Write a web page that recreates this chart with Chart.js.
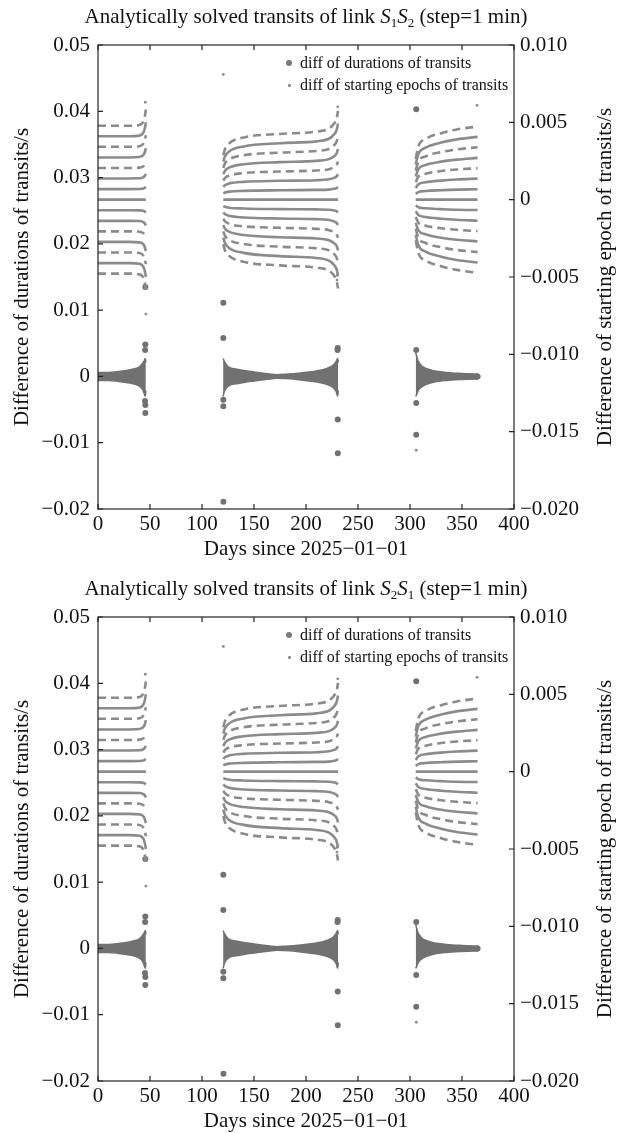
<!DOCTYPE html>
<html>
<head>
<meta charset="utf-8">
<script src="https://cdn.jsdelivr.net/npm/chart.js@4.4.1/dist/chart.umd.min.js"></script>
<style>
  body { margin: 0; background: #fff; font-family: 'Liberation Serif', 'Times New Roman', serif; color: #111; }
  .panel { position: absolute; left: 0; width: 623px; height: 563px; }
  .panel canvas { position: absolute; left: 0; top: 0; }
  .ttl { position: absolute; left: 0; width: 612px; top: 3px; text-align: center; font-size: 21px; line-height: 26px; white-space: nowrap; }
  .ttl sub { font-size: 13px; vertical-align: -4px; line-height: 0; }
  .rtitle { position: absolute; left: 379px; top: 264px; width: 450px; height: 26px; line-height: 26px; text-align: center;
            font-size: 21px; transform: rotate(-90deg); transform-origin: 50% 50%; white-space: nowrap; }
  .leg { position: absolute; left: 300px; font-size: 16px; line-height: 18px; white-space: nowrap; }
  .mk { position: absolute; border-radius: 50%; background: #7a7a7a; }
</style>
</head>
<body>

<div class="panel" style="top:0">
  <canvas id="c1" width="623" height="563"></canvas>
  <div class="ttl">Analytically solved transits of link <i>S</i><sub>1</sub><i>S</i><sub>2</sub> (step=1 min)</div>
  <div class="rtitle">Difference of starting epoch of transits/s</div>
  <div class="mk" style="left:286px;top:60px;width:6px;height:6px"></div>
  <div class="leg" style="top:54px">diff of durations of transits</div>
  <div class="mk" style="left:288px;top:84px;width:2.5px;height:2.5px;background:#8b8b8b"></div>
  <div class="leg" style="top:76px">diff of starting epochs of transits</div>
</div>

<div class="panel" style="top:572px">
  <canvas id="c2" width="623" height="563"></canvas>
  <div class="ttl">Analytically solved transits of link <i>S</i><sub>2</sub><i>S</i><sub>1</sub> (step=1 min)</div>
  <div class="rtitle">Difference of starting epoch of transits/s</div>
  <div class="mk" style="left:286px;top:60px;width:6px;height:6px"></div>
  <div class="leg" style="top:54px">diff of durations of transits</div>
  <div class="mk" style="left:288px;top:84px;width:2.5px;height:2.5px;background:#8b8b8b"></div>
  <div class="leg" style="top:76px">diff of starting epochs of transits</div>
</div>

<script>
// axis ticks
const X_TICKS = [0, 50, 100, 150, 200, 250, 300, 350, 400];
const LEFT_TICKS = [-0.02, -0.01, 0, 0.01, 0.02, 0.03, 0.04, 0.05];
const LEFT_LABELS = ['\u22120.02', '\u22120.01', '0', '0.01', '0.02', '0.03', '0.04', '0.05'];
const RIGHT_TICKS = [-0.02, -0.015, -0.01, -0.005, 0, 0.005, 0.01];
const RIGHT_LABELS = ['\u22120.020', '\u22120.015', '\u22120.010', '\u22120.005', '0', '0.005', '0.010'];

// diff of starting epochs: quantised levels (top to bottom), per visibility window
const EPOCH_DAYS_1 = [0, 30, 40, 44, 45.2, 46];
const EPOCH_LEVELS_1 = [
  [0.00478, 0.00478, 0.00483, 0.00511, 0.00545, 0.00583],
  [0.00410, 0.00410, 0.00414, 0.00439, 0.00467, 0.00500],
  [0.00342, 0.00342, 0.00345, 0.00366, 0.00390, 0.00417],
  [0.00273, 0.00273, 0.00276, 0.00292, 0.00311, 0.00333],
  [0.00205, 0.00205, 0.00207, 0.00219, 0.00234, 0.00250],
  [0.00137, 0.00137, 0.00138, 0.00147, 0.00156, 0.00167],
  [0.00068, 0.00068, 0.00069, 0.00073, 0.00078, 0.00083],
  [0, 0, 0, 0, 0, 0],
  [-0.00068, -0.00068, -0.00069, -0.00073, -0.00078, -0.00083],
  [-0.00137, -0.00137, -0.00138, -0.00147, -0.00156, -0.00167],
  [-0.00205, -0.00205, -0.00207, -0.00219, -0.00234, -0.00250],
  [-0.00273, -0.00273, -0.00276, -0.00292, -0.00311, -0.00333],
  [-0.00342, -0.00342, -0.00345, -0.00366, -0.00390, -0.00417],
  [-0.00410, -0.00410, -0.00414, -0.00439, -0.00467, -0.00500],
  [-0.00478, -0.00478, -0.00483, -0.00511, -0.00545, -0.00583]
];
const EPOCH_DAYS_2 = [120.5, 122, 126, 140, 175, 210, 222, 227, 229.5, 230.8];
const EPOCH_LEVELS_2 = [
  [0.00287, 0.00325, 0.00363, 0.00402, 0.00425, 0.00440, 0.00459, 0.00492, 0.00526, 0.00574],
  [0.00246, 0.00279, 0.00312, 0.00344, 0.00365, 0.00377, 0.00394, 0.00422, 0.00451, 0.00492],
  [0.00205, 0.00233, 0.00260, 0.00287, 0.00304, 0.00315, 0.00328, 0.00352, 0.00376, 0.00410],
  [0.00164, 0.00186, 0.00207, 0.00229, 0.00243, 0.00251, 0.00262, 0.00281, 0.00300, 0.00328],
  [0.00123, 0.00139, 0.00156, 0.00172, 0.00182, 0.00189, 0.00197, 0.00211, 0.00226, 0.00246],
  [0.00082, 0.00093, 0.00104, 0.00115, 0.00122, 0.00126, 0.00132, 0.00141, 0.00151, 0.00164],
  [0.00041, 0.00046, 0.00052, 0.00057, 0.00061, 0.00063, 0.00065, 0.00070, 0.00075, 0.00082],
  [0, 0, 0, 0, 0, 0, 0, 0, 0, 0],
  [-0.00041, -0.00046, -0.00052, -0.00057, -0.00061, -0.00063, -0.00065, -0.00070, -0.00075, -0.00082],
  [-0.00082, -0.00093, -0.00104, -0.00115, -0.00122, -0.00126, -0.00132, -0.00141, -0.00151, -0.00164],
  [-0.00123, -0.00139, -0.00156, -0.00172, -0.00182, -0.00189, -0.00197, -0.00211, -0.00226, -0.00246],
  [-0.00164, -0.00186, -0.00207, -0.00229, -0.00243, -0.00251, -0.00262, -0.00281, -0.00300, -0.00328],
  [-0.00205, -0.00233, -0.00260, -0.00287, -0.00304, -0.00315, -0.00328, -0.00352, -0.00376, -0.00410],
  [-0.00246, -0.00279, -0.00312, -0.00344, -0.00365, -0.00377, -0.00394, -0.00422, -0.00451, -0.00492],
  [-0.00287, -0.00325, -0.00363, -0.00402, -0.00425, -0.00440, -0.00459, -0.00492, -0.00526, -0.00574]
];
const EPOCH_DAYS_3 = [305.5, 308, 315, 330, 345, 365];
const EPOCH_LEVELS_3 = [
  [0.00263, 0.00344, 0.00392, 0.00430, 0.00454, 0.00473],
  [0.00226, 0.00295, 0.00336, 0.00369, 0.00390, 0.00406],
  [0.00188, 0.00246, 0.00280, 0.00308, 0.00325, 0.00339],
  [0.00150, 0.00197, 0.00224, 0.00246, 0.00259, 0.00270],
  [0.00113, 0.00148, 0.00168, 0.00185, 0.00195, 0.00203],
  [0.00075, 0.00099, 0.00112, 0.00123, 0.00130, 0.00136],
  [0.00037, 0.00049, 0.00056, 0.00061, 0.00065, 0.00067],
  [0, 0, 0, 0, 0, 0],
  [-0.00037, -0.00049, -0.00056, -0.00061, -0.00065, -0.00067],
  [-0.00075, -0.00099, -0.00112, -0.00123, -0.00130, -0.00136],
  [-0.00113, -0.00148, -0.00168, -0.00185, -0.00195, -0.00203],
  [-0.00150, -0.00197, -0.00224, -0.00246, -0.00259, -0.00270],
  [-0.00188, -0.00246, -0.00280, -0.00308, -0.00325, -0.00339],
  [-0.00226, -0.00295, -0.00336, -0.00369, -0.00390, -0.00406],
  [-0.00263, -0.00344, -0.00392, -0.00430, -0.00454, -0.00473]
];
// which levels look dashed (sparse) in the plot
const LEVEL_DASHED = [true, false, true, false, true, false, false, false, false, false, true, false, true, false, true];

// stray starting-epoch points
const EPOCH_STRAY_DAYS = [45.5, 46, 120.5, 229.8, 230, 230.5, 306, 364.5];
const EPOCH_STRAY_VALUES = [0.0063, -0.0074, 0.0081, -0.0052, -0.0049, 0.0060, -0.0162, 0.0061];

// diff of durations: dense band (upper / lower edge) per window
const DUR_DAYS_1 = [0, 10, 20, 30, 36, 40, 43, 44.5, 45.5, 46];
const DUR_HI_1 = [0.0006, 0.0006, 0.00075, 0.00098, 0.0012, 0.0015, 0.002, 0.0024, 0.0027, 0.0021];
const DUR_LO_1 = [-0.0006, -0.0006, -0.00075, -0.00098, -0.0012, -0.0015, -0.002, -0.0026, -0.003, -0.0021];
const DUR_DAYS_2 = [120.3, 121.5, 125, 135, 150, 165, 172, 180, 195, 210, 220, 226, 229, 230.5, 231];
const DUR_HI_2 = [0.0027, 0.00227, 0.0015, 0.00106, 0.00068, 0.00038, 0.00027, 0.00033, 0.00053, 0.00083, 0.0012, 0.00166, 0.00227, 0.0027, 0.0021];
const DUR_LO_2 = [-0.003, -0.00227, -0.0015, -0.00106, -0.00068, -0.00038, -0.00027, -0.00033, -0.00053, -0.00083, -0.0012, -0.00166, -0.00227, -0.003, -0.0021];
const DUR_DAYS_3 = [305.5, 306.5, 308, 312, 320, 335, 350, 364, 365.5];
const DUR_HI_3 = [0.0036, 0.003, 0.00227, 0.0015, 0.00098, 0.0006, 0.00045, 0.00038, 0.00045];
const DUR_LO_3 = [-0.003, -0.0027, -0.0021, -0.0015, -0.00098, -0.0006, -0.00045, -0.00038, -0.00045];

// isolated duration points
const DUR_OUT_DAYS = [45.5, 45.5, 45.3, 45.5, 45.5, 45.2, 120.5, 120.5, 120.5, 120.5, 120.6, 230.5, 230.3, 230.5, 230.6, 306, 306, 306, 306, 365];
const DUR_OUT_VALUES = [0.0135, 0.0048, 0.004, -0.0043, -0.0055, -0.0037, 0.0111, 0.0058, -0.0035, -0.0045, -0.0189, 0.0043, 0.004, -0.0065, -0.0116, 0.0403, 0.004, -0.004, -0.0088, 0];

const LINE_GREY = '#8b8b8b';
const DOT_GREY = '#717171';
const AXIS_COL = '#222';
const FONT = 'Liberation Serif';

function pts(xs, ys) { return xs.map((x, i) => ({ x: x, y: ys[i] })); }

function buildDatasets() {
  const ds = [];
  [[EPOCH_DAYS_1, EPOCH_LEVELS_1], [EPOCH_DAYS_2, EPOCH_LEVELS_2], [EPOCH_DAYS_3, EPOCH_LEVELS_3]].forEach(([days, levels]) => {
    levels.forEach((lv, i) => {
      ds.push({
        data: pts(days, lv), yAxisID: 'yR', borderColor: LINE_GREY, borderWidth: 2.6,
        borderDash: LEVEL_DASHED[i] ? [8, 5] : [], pointRadius: 0, fill: false,
        cubicInterpolationMode: 'monotone'
      });
    });
  });
  ds.push({
    data: pts(EPOCH_STRAY_DAYS, EPOCH_STRAY_VALUES), yAxisID: 'yR', showLine: false,
    pointRadius: 1.4, pointBackgroundColor: LINE_GREY, pointBorderWidth: 0
  });
  [[DUR_DAYS_1, DUR_HI_1, DUR_LO_1], [DUR_DAYS_2, DUR_HI_2, DUR_LO_2], [DUR_DAYS_3, DUR_HI_3, DUR_LO_3]].forEach(([days, hi, lo]) => {
    ds.push({
      data: pts(days, lo), yAxisID: 'y', borderColor: DOT_GREY, borderWidth: 1.5,
      pointRadius: 0, fill: false, cubicInterpolationMode: 'monotone'
    });
    ds.push({
      data: pts(days, hi), yAxisID: 'y', borderColor: DOT_GREY, borderWidth: 1.5,
      backgroundColor: DOT_GREY, pointRadius: 0, fill: '-1', cubicInterpolationMode: 'monotone'
    });
  });
  ds.push({
    data: pts(DUR_OUT_DAYS, DUR_OUT_VALUES), yAxisID: 'y', showLine: false,
    pointRadius: 3, pointBackgroundColor: DOT_GREY, pointBorderWidth: 0
  });
  return ds;
}

// frame and inward tick marks
const frameTicks = {
  id: 'frameTicks',
  afterDraw(chart) {
    const { ctx, chartArea: a, scales } = chart;
    ctx.save();
    ctx.strokeStyle = AXIS_COL;
    ctx.lineWidth = 1.2;
    ctx.strokeRect(a.left, a.top, a.right - a.left, a.bottom - a.top);
    ctx.beginPath();
    X_TICKS.forEach(v => {
      const p = scales.x.getPixelForValue(v);
      ctx.moveTo(p, a.bottom); ctx.lineTo(p, a.bottom - 5);
      ctx.moveTo(p, a.top); ctx.lineTo(p, a.top + 5);
    });
    LEFT_TICKS.forEach(v => {
      const p = scales.y.getPixelForValue(v);
      ctx.moveTo(a.left, p); ctx.lineTo(a.left + 5, p);
    });
    RIGHT_TICKS.forEach(v => {
      const p = scales.yR.getPixelForValue(v);
      ctx.moveTo(a.right, p); ctx.lineTo(a.right - 5, p);
    });
    ctx.stroke();
    ctx.restore();
  }
};

function setTicks(values) {
  return function (scale) { scale.ticks = values.map(v => ({ value: v })); };
}

function makeChart(id) {
  new Chart(document.getElementById(id), {
    type: 'line',
    data: { datasets: buildDatasets() },
    plugins: [frameTicks],
    options: {
      responsive: false,
      animation: false,
      events: [],
      layout: { padding: { top: 45, left: 0, right: 0, bottom: 0 } },
      plugins: { legend: { display: false }, tooltip: { enabled: false } },
      scales: {
        x: {
          type: 'linear', position: 'bottom', min: 0, max: 400,
          grid: { display: false, drawTicks: false }, border: { display: false },
          afterBuildTicks: setTicks(X_TICKS),
          afterFit: s => { s.height = 54; },
          ticks: { font: { family: FONT, size: 21 }, color: '#111', padding: 3, maxRotation: 0, autoSkip: false,
                   callback: v => String(v) },
          title: { display: true, text: 'Days since 2025\u221201\u221201', font: { family: FONT, size: 21 },
                   color: '#111', padding: { top: 0, bottom: 1 } }
        },
        y: {
          type: 'linear', position: 'left', min: -0.02, max: 0.05,
          grid: { display: false, drawTicks: false }, border: { display: false },
          afterBuildTicks: setTicks(LEFT_TICKS),
          afterFit: s => { s.width = 98; },
          ticks: { font: { family: FONT, size: 21 }, color: '#111', padding: 8, autoSkip: false,
                   callback: v => LEFT_LABELS[LEFT_TICKS.findIndex(t => Math.abs(t - v) < 1e-9)] },
          title: { display: true, text: 'Difference of durations of transits/s', font: { family: FONT, size: 21 },
                   color: '#111', padding: { top: 10, bottom: 0 } }
        },
        yR: {
          type: 'linear', position: 'right', min: -0.02, max: 0.01,
          grid: { display: false, drawTicks: false }, border: { display: false },
          afterBuildTicks: setTicks(RIGHT_TICKS),
          afterFit: s => { s.width = 109; },
          ticks: { font: { family: FONT, size: 21 }, color: '#111', padding: 6, autoSkip: false,
                   callback: v => RIGHT_LABELS[RIGHT_TICKS.findIndex(t => Math.abs(t - v) < 1e-9)] }
        }
      }
    }
  });
}

makeChart('c1');
makeChart('c2');
</script>
</body>
</html>
